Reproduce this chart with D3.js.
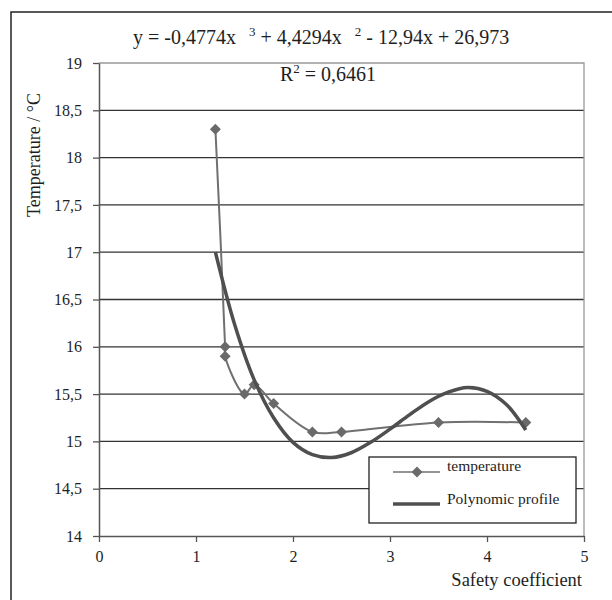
<!DOCTYPE html>
<html>
<head>
<meta charset="utf-8">
<script src="https://cdn.jsdelivr.net/npm/d3@7"></script>
<style>
  body { margin: 0; background: #fff; }
  text { font-family: "Liberation Serif", "Times New Roman", serif; fill: #1e1e1e; }
</style>
</head>
<body>
<div id="chart"></div>
<script>
// Measured temperature vs. safety coefficient
const safetyCoef = [1.2, 1.3, 1.3, 1.5, 1.6, 1.8, 2.2, 2.5, 3.5, 4.4];
const temperature = [18.3, 16.0, 15.9, 15.5, 15.6, 15.4, 15.1, 15.1, 15.2, 15.2];

// Trendline as drawn
const polyX = [1.2, 1.4, 1.6, 1.8, 2.0, 2.2, 2.4, 2.6, 2.8, 3.0, 3.2, 3.4, 3.6, 3.8, 4.0, 4.2, 4.4];
const polyY = [17.0, 16.23, 15.65, 15.25, 14.99, 14.86, 14.83, 14.88, 14.99, 15.13, 15.28, 15.42, 15.52, 15.57, 15.53, 15.39, 15.12];

// Axis ticks
const xTicks = [0, 1, 2, 3, 4, 5];
const yTicks = [14, 14.5, 15, 15.5, 16, 16.5, 17, 17.5, 18, 18.5, 19];

const seriesNames = ["temperature", "Polynomic profile"];

const width = 612;
const height = 600;
const plot = { left: 99, right: 584, top: 63, bottom: 536 };

const svg = d3
  .select("#chart")
  .append("svg")
  .attr("width", width)
  .attr("height", height);

svg.append("rect").attr("width", width).attr("height", height).attr("fill", "#fff");

// outer frame (runs off the right / bottom edge)
svg
  .append("rect")
  .attr("x", 11)
  .attr("y", 12)
  .attr("width", 640)
  .attr("height", 640)
  .attr("fill", "none")
  .attr("stroke", "#222")
  .attr("stroke-width", 1.5);

const x = d3.scaleLinear().domain([0, 5]).range([plot.left, plot.right]);
const y = d3.scaleLinear().domain([14, 19]).range([plot.bottom, plot.top]);

const fmt = d3.formatLocale({ decimal: ",", thousands: " ", grouping: [3], currency: ["", ""] }).format("~g");

// gridlines
svg
  .append("g")
  .selectAll("line")
  .data(yTicks.filter((d) => d > 14 && d < 19))
  .join("line")
  .attr("x1", plot.left)
  .attr("x2", plot.right)
  .attr("y1", (d) => y(d))
  .attr("y2", (d) => y(d))
  .attr("stroke", "#333")
  .attr("stroke-width", 1.3);

// plot border top / right
svg
  .append("path")
  .attr("d", `M${plot.left},${y(19)}H${plot.right}V${plot.bottom}`)
  .attr("fill", "none")
  .attr("stroke", "#999")
  .attr("stroke-width", 1.3);

// axes
const xAxis = svg
  .append("g")
  .attr("transform", `translate(0,${plot.bottom})`)
  .call(d3.axisBottom(x).tickValues(xTicks).tickFormat(fmt).tickSize(6).tickSizeOuter(0).tickPadding(9));

const yAxis = svg
  .append("g")
  .attr("transform", `translate(${plot.left},0)`)
  .call(d3.axisLeft(y).tickValues(yTicks).tickFormat(fmt).tickSize(6).tickSizeOuter(0).tickPadding(11));

[xAxis, yAxis].forEach((g) => {
  g.attr("font-family", '"Liberation Serif", serif').attr("font-size", 16);
  g.select(".domain").attr("stroke", "#555").attr("stroke-width", 1.5);
  g.selectAll(".tick line").attr("stroke", "#555").attr("stroke-width", 1.3);
  g.selectAll(".tick text").attr("fill", "#1e1e1e");
});

// axis titles
svg
  .append("text")
  .attr("transform", "translate(40,155) rotate(-90)")
  .attr("text-anchor", "middle")
  .style("font-size", "18px")
  .text("Temperature / °C");

svg
  .append("text")
  .attr("x", 582)
  .attr("y", 586)
  .attr("text-anchor", "end")
  .style("font-size", "18.5px")
  .text("Safety coefficient");

// measured series
const tempData = safetyCoef.map((d, i) => ({ x: d, y: temperature[i] }));

const line = d3
  .line()
  .x((d) => x(d.x))
  .y((d) => y(d.y))
  .curve(d3.curveCatmullRom.alpha(0.5));

svg
  .append("path")
  .datum(tempData)
  .attr("d", line)
  .attr("fill", "none")
  .attr("stroke", "#707070")
  .attr("stroke-width", 2);

const diamond = (s) => `M0,${-s}L${s},0L0,${s}L${-s},0Z`;

svg
  .append("g")
  .selectAll("path")
  .data(tempData)
  .join("path")
  .attr("transform", (d) => `translate(${x(d.x)},${y(d.y)})`)
  .attr("d", diamond(5.5))
  .attr("fill", "#6a6a6a");

// polynomial trendline
const polyData = polyX.map((d, i) => ({ x: d, y: polyY[i] }));

svg
  .append("path")
  .datum(polyData)
  .attr("d", line)
  .attr("fill", "none")
  .attr("stroke", "#4f4f4f")
  .attr("stroke-width", 3.5);

// trendline equation
const eq = svg
  .append("text")
  .attr("x", 133)
  .attr("y", 44)
  .style("font-size", "20px");
eq.append("tspan").text("y = -0,4774x");
eq.append("tspan").attr("dx", 13).attr("dy", -8).style("font-size", "13px").text("3");
eq.append("tspan").attr("dx", 5).attr("dy", 8).text("+ 4,4294x");
eq.append("tspan").attr("dx", 13).attr("dy", -8).style("font-size", "13px").text("2");
eq.append("tspan").attr("dx", 5).attr("dy", 8).text("- 12,94x + 26,973");

const r2 = svg
  .append("text")
  .attr("x", 280)
  .attr("y", 81)
  .style("font-size", "20px");
r2.append("tspan").text("R");
r2.append("tspan").attr("dy", -8).style("font-size", "13px").text("2");
r2.append("tspan").attr("dy", 8).text(" = 0,6461");

// legend
const legend = svg.append("g").attr("transform", "translate(369,457)");

legend
  .append("rect")
  .attr("width", 207)
  .attr("height", 66)
  .attr("fill", "#fff")
  .attr("stroke", "#222")
  .attr("stroke-width", 1.3);

const rows = legend
  .selectAll("g")
  .data(seriesNames)
  .join("g")
  .attr("transform", (d, i) => `translate(0,${15 + i * 32})`);

rows
  .append("line")
  .attr("x1", 24)
  .attr("x2", 71)
  .attr("stroke", (d, i) => (i === 0 ? "#707070" : "#4f4f4f"))
  .attr("stroke-width", (d, i) => (i === 0 ? 1.5 : 3.5));

rows
  .filter((d, i) => i === 0)
  .append("path")
  .attr("transform", "translate(48,0)")
  .attr("d", diamond(5.5))
  .attr("fill", "#6a6a6a");

rows
  .append("text")
  .attr("x", 78)
  .attr("y", (d, i) => (i === 0 ? -1 : 0))
  .style("font-size", "15.5px")
  .text((d) => d);
</script>
</body>
</html>
